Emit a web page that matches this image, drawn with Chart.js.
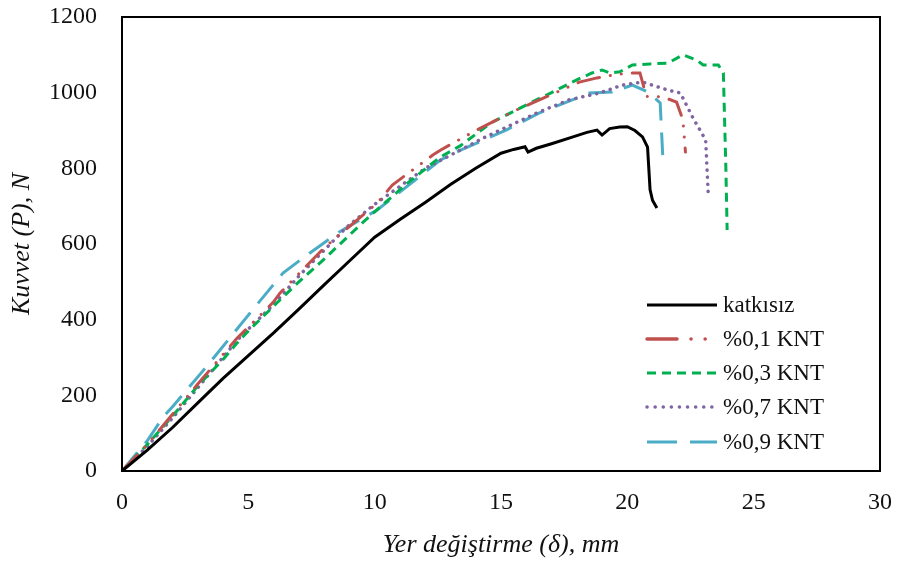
<!DOCTYPE html>
<html>
<head>
<meta charset="utf-8">
<script src="https://cdn.jsdelivr.net/npm/chart.js@4.4.0/dist/chart.umd.min.js"></script>
<style>
  html, body { margin: 0; padding: 0; background: #fff; }
  #wrap { width: 900px; height: 561px; }
</style>
</head>
<body>
<div id="wrap"><canvas id="myChart" width="900" height="561"></canvas></div>
<script>
const seriesNames = ['katkısız', '%0,1 KNT', '%0,3 KNT', '%0,7 KNT', '%0,9 KNT'];

// displacement (mm) and force (N) for each curve
const katkisizX = [0, 1, 2, 3, 4, 5, 6, 7, 8, 9, 10, 11, 12, 13, 14, 15, 15.5, 15.95, 16.07, 16.4, 17, 17.85, 18.4, 18.8, 19.0, 19.3, 19.7, 20.0, 20.3, 20.6, 20.8, 20.9, 21.0, 21.17];
const katkisizY = [0, 55, 115, 180, 245, 305, 365, 428, 492, 555, 618, 665, 710, 757, 800, 840, 850, 857, 843, 853, 865, 883, 895, 901, 888, 905, 909, 910, 900, 883, 856, 743, 715, 695];

const knt01X = [0, 1, 2, 3, 4.55, 5, 6, 6.25, 8, 10.1, 10.7, 12.3, 12.6, 14, 15.6, 17, 18.1, 18.8, 19.3, 20, 20.5, 20.6, 20.75, 21.4, 21.95, 22.2, 22.3];
const knt01Y = [0, 70, 150, 230, 351, 380, 447, 470, 590, 708, 756, 835, 848, 900, 954, 995, 1028, 1039, 1045, 1052, 1052, 1028, 990, 989, 975, 928, 843];

const knt03X = [0, 1, 2, 3, 4, 4.55, 5, 6.25, 7, 8, 9.42, 10, 11.3, 12.6, 13.4, 14.6, 16.4, 17, 18, 18.6, 19, 19.3, 19.7, 20.2, 20.9, 21.6, 22.2, 22.75, 23.0, 23.6, 23.8, 23.9, 23.95];
const knt03Y = [0, 70, 145, 225, 295, 338, 370, 452, 500, 560, 650, 685, 761, 830, 860, 920, 981, 1000, 1034, 1052, 1060, 1052, 1055, 1073, 1076, 1078, 1100, 1086, 1073, 1073, 1052, 800, 637];

const knt07X = [0, 1, 2, 3, 4.55, 5, 6, 7.04, 8.9, 10, 12, 14.3, 16.4, 17.7, 18.9, 19.8, 20.6, 21.6, 22.1, 22.6, 23.1, 23.2];
const knt07Y = [0, 65, 140, 220, 345, 375, 440, 518, 645, 705, 800, 880, 946, 981, 999, 1020, 1028, 1007, 999, 933, 875, 735];

const knt09X = [0, 1, 1.63, 2, 3.17, 3.88, 5.33, 6.37, 7.16, 7.7, 8.6, 10.1, 12.6, 13.4, 15.2, 16.5, 18.5, 19.4, 20.2, 20.8, 21.3, 21.4];
const knt09Y = [0, 80, 143, 170, 262, 320, 439, 523, 563, 589, 632, 690, 822, 848, 901, 946, 999, 1002, 1020, 1002, 973, 835];

const xTicks = [0, 5, 10, 15, 20, 25, 30];
const yTicks = [0, 200, 400, 600, 800, 1000, 1200];

const colors = ['#000000', '#C0504D', '#00B050', '#8064A2', '#4BACC6'];
const dashes = [[], [22, 11, 0.1, 11, 0.1, 11], [9, 6], [0.1, 7], [24, 12]];
const legendDashes = [[], [30, 14, 0.1, 14, 0.1, 40], [9, 6], [0.1, 8], [30, 13]];
const caps = ['butt', 'round', 'butt', 'round', 'butt'];

function pts(xs, ys) {
  return xs.map((x, i) => ({ x: x, y: ys[i] }));
}

const allData = [
  pts(katkisizX, katkisizY),
  pts(knt01X, knt01Y),
  pts(knt03X, knt03Y),
  pts(knt07X, knt07Y),
  pts(knt09X, knt09Y)
];

const datasets = allData.map((d, i) => ({
  label: seriesNames[i],
  data: d,
  showLine: true,
  borderColor: colors[i],
  backgroundColor: colors[i],
  borderWidth: i == 3 ? 3.5 : 3,
  borderDash: dashes[i],
  borderCapStyle: caps[i],
  pointRadius: 0,
  tension: 0,
  order: i
}));

const serif = '"Liberation Serif", "Times New Roman", serif';

const boxAndLegend = {
  id: 'boxAndLegend',
  afterDatasetsDraw(chart) {
    const c = chart.ctx;
    const a = chart.chartArea;
    c.save();
    c.strokeStyle = '#000';
    c.lineWidth = 2;
    c.setLineDash([]);
    c.strokeRect(a.left, a.top, a.right - a.left, a.bottom - a.top);

    // legend inside plot
    const x0 = a.left + 525, x1 = a.left + 595;
    const ys = [305, 339, 373, 407, 442];
    c.font = '23px ' + serif;
    c.textBaseline = 'middle';
    for (let i = 0; i < seriesNames.length; i++) {
      c.beginPath();
      c.strokeStyle = colors[i];
      c.lineWidth = i == 1 || i == 3 ? 3.5 : 3;
      c.lineCap = caps[i];
      c.setLineDash(legendDashes[i]);
      c.moveTo(x0, ys[i]);
      c.lineTo(x1, ys[i]);
      c.stroke();
      c.setLineDash([]);
      c.fillStyle = '#111';
      c.fillText(seriesNames[i], x1 + 6, ys[i] + 1);
    }
    c.restore();
  }
};

const ctx = document.getElementById('myChart');

new Chart(ctx, {
  type: 'scatter',
  data: { datasets: datasets },
  options: {
    responsive: false,
    animation: false,
    layout: { padding: { top: 17, right: 20, bottom: 0, left: 0 } },
    plugins: {
      legend: { display: false },
      tooltip: { enabled: false }
    },
    scales: {
      x: {
        type: 'linear',
        min: 0,
        max: 30,
        afterBuildTicks(axis) { axis.ticks = xTicks.map(v => ({ value: v })); },
        afterFit(axis) { axis.height = 90; axis.paddingLeft = 0; axis.paddingRight = 0; },
        grid: { display: false, drawTicks: false },
        border: { display: true, color: '#000', width: 2 },
        ticks: {
          padding: 17,
          color: '#111',
          callback: v => String(v),
          font: { family: serif, size: 24 }
        },
        title: {
          display: true,
          text: 'Yer değiştirme (δ), mm',
          color: '#111',
          padding: { top: 0, bottom: 0 },
          font: { family: serif, size: 26, style: 'italic' }
        }
      },
      y: {
        type: 'linear',
        min: 0,
        max: 1200,
        afterBuildTicks(axis) { axis.ticks = yTicks.map(v => ({ value: v })); },
        afterFit(axis) { axis.width = 122; axis.paddingTop = 0; axis.paddingBottom = 0; },
        grid: { display: false, drawTicks: false },
        border: { display: true, color: '#000', width: 2 },
        ticks: {
          padding: 25,
          color: '#111',
          callback: v => String(v),
          font: { family: serif, size: 24 }
        },
        title: {
          display: true,
          text: 'Kuvvet (P), N',
          color: '#111',
          padding: { top: 7, bottom: 0 },
          font: { family: serif, size: 26, style: 'italic' }
        }
      }
    }
  },
  plugins: [boxAndLegend]
});
</script>
</body>
</html>
